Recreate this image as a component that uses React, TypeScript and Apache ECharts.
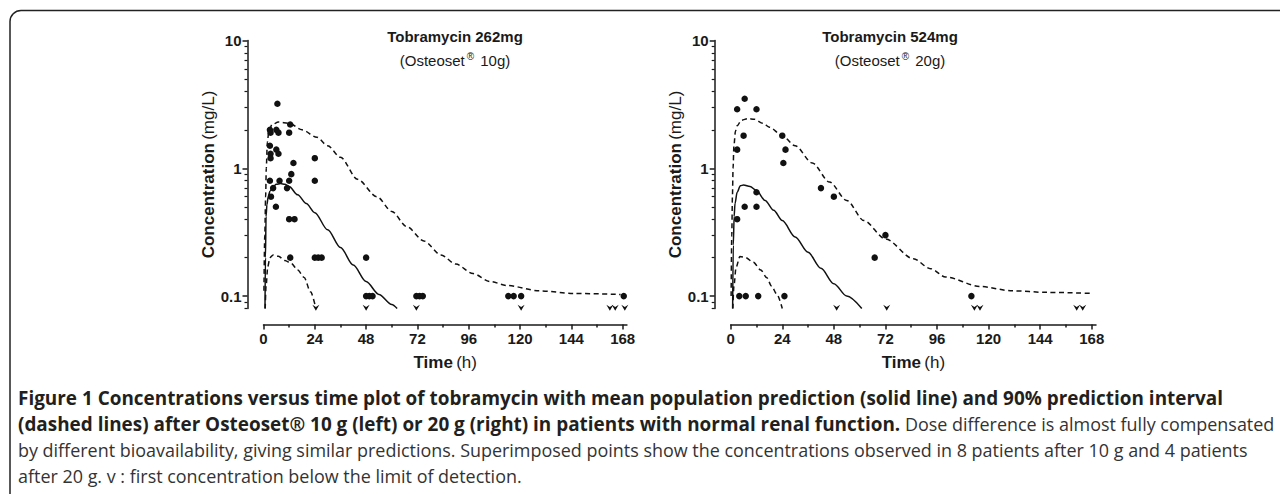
import React, { useEffect, useRef } from 'react';
import * as echarts from 'echarts';

// ---------- axis values ----------
const xTicks = [0, 24, 48, 72, 96, 120, 144, 168];
const xMinorTicks = [12, 36, 60, 84, 108, 132, 156];
const yTicks = [0.1, 1, 10];
const yMinorTicks = [0.08, 0.09, 0.2, 0.3, 0.4, 0.5, 0.6, 0.7, 0.8, 0.9, 2, 3, 4, 5, 6, 7, 8, 9];

// ---------- 10 g (left) ----------
const obs10: [number, number][] = [
  [6.5, 3.2],
  [3, 2.0], [3.3, 1.9], [6, 2.0], [7, 1.9], [12.5, 2.2], [12, 1.9],
  [3, 1.5], [3.3, 1.3], [3.3, 1.2], [6, 1.4], [7, 1.3],
  [14, 1.1], [24, 1.2],
  [3, 0.8], [7.5, 0.8], [12, 0.8], [24, 0.8], [13, 0.9],
  [4.5, 0.7], [11, 0.7], [3.5, 0.6], [5.8, 0.5],
  [12, 0.4], [14.5, 0.4],
  [12.5, 0.2], [24, 0.2], [25.6, 0.2], [27.2, 0.2], [48, 0.2],
  [48, 0.1], [49.5, 0.1], [51, 0.1], [71.5, 0.1], [73, 0.1], [74.5, 0.1],
  [114.5, 0.1], [117, 0.1], [120.5, 0.1], [168.5, 0.1],
];
const blq10 = [24.5, 48, 71.5, 120.5, 162, 164.5, 169];
const mean10: [number, number][] = [
  [0.7, 0.08], [0.9, 0.2], [1.2, 0.42], [1.6, 0.52], [2.2, 0.6], [3, 0.66], [4.5, 0.72],
  [6, 0.75], [8, 0.76], [10, 0.75], [12, 0.72], [16, 0.62], [20, 0.53], [24, 0.45],
  [30, 0.33], [36, 0.24], [42, 0.175], [48, 0.13], [54, 0.103], [60, 0.086], [62.5, 0.08],
];
const upper10: [number, number][] = [
  [0.2, 0.11], [0.6, 0.3], [1, 0.6], [1.3, 1.0], [1.8, 1.6], [2.5, 1.95], [4, 2.2],
  [7, 2.3], [12, 2.25], [18, 2.0], [25, 1.75], [30, 1.5], [36, 1.22], [44, 0.82],
  [53, 0.6], [60, 0.46], [67, 0.35], [75, 0.27], [83, 0.21], [90, 0.178], [98, 0.15],
  [106, 0.13], [114, 0.121], [129, 0.11], [145, 0.105], [167, 0.103],
];
const lower10: [number, number][] = [
  [0.8, 0.08], [1.2, 0.12], [2, 0.17], [3, 0.2], [4.5, 0.21], [7, 0.205], [10, 0.19],
  [13, 0.18], [16, 0.16], [19, 0.14], [22, 0.108], [24.5, 0.08],
];

// ---------- 20 g (right) ----------
const obs20: [number, number][] = [
  [6.5, 3.5], [3, 2.9], [12, 2.9], [6, 1.8], [3, 1.4], [24, 1.8], [25.5, 1.4], [24.5, 1.1],
  [42, 0.7], [48, 0.6], [12, 0.65], [6.5, 0.5], [12, 0.5], [3, 0.4], [72, 0.3], [67, 0.2],
  [4, 0.1], [7, 0.1], [12.8, 0.1], [25, 0.1], [112, 0.1],
];
const blq20 = [49.3, 72.6, 113.4, 116, 161, 163.8];
const mean20: [number, number][] = [
  [0.9, 0.08], [1.2, 0.25], [1.6, 0.42], [2, 0.53], [3, 0.65], [4.5, 0.73], [6, 0.74],
  [9, 0.72], [12, 0.67], [16, 0.56], [20, 0.47], [24, 0.39], [30, 0.29], [36, 0.22],
  [42, 0.165], [48, 0.125], [54, 0.1], [61, 0.08],
];
const upper20: [number, number][] = [
  [0.2, 0.1], [0.5, 0.3], [0.8, 0.6], [1.1, 1.0], [1.5, 1.5], [2.2, 1.95], [3, 2.15],
  [5, 2.38], [8, 2.45], [11, 2.42], [15, 2.25], [18, 2.1], [24, 1.8], [30, 1.5], [38, 1.1],
  [46, 0.78], [54, 0.56], [62, 0.39], [72, 0.28], [85, 0.196], [93, 0.164], [100, 0.141],
  [116, 0.119], [131, 0.11], [147, 0.107], [168, 0.105],
];
const lower20: [number, number][] = [
  [1, 0.08], [1.5, 0.12], [2.5, 0.168], [4.3, 0.204], [7, 0.2], [10.5, 0.184], [14, 0.16],
  [16.7, 0.14], [19, 0.12], [21.4, 0.104], [24, 0.08],
];
const BLQ_Y = 0.081;

const panelTitles = ['Tobramycin 262mg', 'Tobramycin 524mg'];
const panelDoses = [' 10g)', ' 20g)'];

const captionLines = [
  [{ s: 'b', t: 'Figure 1 Concentrations versus time plot of tobramycin with mean population prediction (solid line) and 90% prediction interval' }],
  [
    { s: 'b', t: '(dashed lines) after Osteoset® 10 g (left) or 20 g (right) in patients with normal renal function.' },
    { s: 'r', t: ' Dose difference is almost fully compensated' },
  ],
  [{ s: 'r', t: 'by different bioavailability, giving similar predictions. Superimposed points show the concentrations observed in 8 patients after 10 g and 4 patients' }],
  [{ s: 'r', t: 'after 20 g. v : first concentration below the limit of detection.' }],
];

const FONT = '"Liberation Sans", Arial, Helvetica, sans-serif';
const CAP_FONT = '"Open Sans", "Noto Sans", sans-serif';
const AX = '#1a1a1a';

function measure(text: string, weight: string, size: number, family: string) {
  const c = document.createElement('canvas').getContext('2d');
  if (!c) return text.length * size * 0.55;
  c.font = `${weight} ${size}px ${family}`;
  return c.measureText(text).width;
}

export default function App() {
  const ref = useRef<HTMLDivElement>(null);

  useEffect(() => {
    if (!ref.current) return;
    const chart = echarts.init(ref.current, undefined, { renderer: 'svg' });

    const grids = [
      { left: 263.5, top: 40.5, width: 170 * 2.138, height: 268 },
      { left: 730.7, top: 40.5, width: 170 * 2.149, height: 268 },
    ];

    const xAxis: any[] = [];
    const yAxis: any[] = [];
    grids.forEach((_, g) => {
      xAxis.push({
        type: 'value', gridIndex: g, min: 0, max: 170, position: 'bottom', offset: 16,
        axisLine: { show: true, onZero: false, lineStyle: { color: AX, width: 1.5 } },
        axisTick: { show: true, length: 5, customValues: xTicks, lineStyle: { color: AX, width: 1.5 } },
        axisLabel: { customValues: xTicks, margin: 6, fontFamily: FONT, fontWeight: 'bold', fontSize: 15, color: AX },
        splitLine: { show: false },
        name: '{b|Time} {r|(h)}', nameLocation: 'middle', nameGap: 29,
        nameTextStyle: {
          rich: {
            b: { fontFamily: FONT, fontWeight: 'bold', fontSize: 17, color: AX },
            r: { fontFamily: FONT, fontSize: 17, color: AX },
          },
        },
      });
      xAxis.push({
        type: 'value', gridIndex: g, min: 0, max: 170, position: 'bottom', offset: 16,
        axisLine: { show: false, onZero: false },
        axisTick: { show: true, length: 3, customValues: xMinorTicks, lineStyle: { color: AX, width: 1.5 } },
        axisLabel: { show: false },
        splitLine: { show: false },
      });
      yAxis.push({
        type: 'log', logBase: 10, gridIndex: g, min: 0.08, max: 10, position: 'left', offset: 16,
        axisLine: { show: true, onZero: false, lineStyle: { color: AX, width: 1.5 } },
        axisTick: { show: true, length: 5, customValues: yTicks, lineStyle: { color: AX, width: 1.5 } },
        axisLabel: {
          customValues: yTicks, margin: 6, fontFamily: FONT, fontWeight: 'bold', fontSize: 15, color: AX,
          formatter: (v: number) => (v >= 1 ? v.toFixed(0) : v.toFixed(1)),
        },
        splitLine: { show: false },
        name: '{b|Concentration} {r|(mg/L)}', nameLocation: 'middle', nameGap: 29, nameRotate: 90,
        nameTextStyle: {
          rich: {
            b: { fontFamily: FONT, fontWeight: 'bold', fontSize: 17, color: AX },
            r: { fontFamily: FONT, fontSize: 17, color: AX },
          },
        },
      });
      yAxis.push({
        type: 'log', logBase: 10, gridIndex: g, min: 0.08, max: 10, position: 'left', offset: 16,
        axisLine: { show: false, onZero: false },
        axisTick: { show: true, length: 3, customValues: yMinorTicks, lineStyle: { color: AX, width: 1.2 } },
        axisLabel: { show: false },
        splitLine: { show: false },
      });
    });

    const lineSeries = (data: [number, number][], g: number, dashed: boolean) => ({
      type: 'line', xAxisIndex: 2 * g, yAxisIndex: 2 * g, data, showSymbol: false, symbol: 'none',
      smooth: 0.3, smoothMonotone: 'x',
      lineStyle: { color: '#111', width: 1.5, type: dashed ? [5, 3.5] : 'solid' },
      z: 3,
    });
    const obsSeries = (data: [number, number][], g: number) => ({
      type: 'scatter', xAxisIndex: 2 * g, yAxisIndex: 2 * g, data, symbol: 'circle', symbolSize: 6.5,
      itemStyle: { color: '#111', opacity: 1 }, z: 4,
    });
    const blqSeries = (times: number[], g: number) => ({
      type: 'scatter', xAxisIndex: 2 * g, yAxisIndex: 2 * g, data: times.map((t) => [t, BLQ_Y]),
      symbol: 'path://M0,0 L5,3 L10,0 L5,8 Z', symbolSize: [7, 6], itemStyle: { color: '#111', opacity: 1 }, z: 4,
    });

    const series: any[] = [
      lineSeries(mean10, 0, false), lineSeries(upper10, 0, true), lineSeries(lower10, 0, true),
      obsSeries(obs10, 0), blqSeries(blq10, 0),
      lineSeries(mean20, 1, false), lineSeries(upper20, 1, true), lineSeries(lower20, 1, true),
      obsSeries(obs20, 1), blqSeries(blq20, 1),
    ];

    // caption sizing: bold fitted to line 1, regular fitted to line 3, then checked against line 2
    let sizeB = (100 * 1207) / measure(captionLines[0][0].t, 'bold', 100, CAP_FONT);
    let sizeR = (100 * 1232) / measure(captionLines[2][0].t, 'normal', 100, CAP_FONT);
    const w2 = measure(captionLines[1][0].t, 'bold', sizeB, CAP_FONT) + measure(captionLines[1][1].t, 'normal', sizeR, CAP_FONT);
    if (w2 > 1256) {
      const k = 1256 / w2;
      sizeB *= k;
      sizeR *= k;
    }
    const capLH = 26;
    const capText = captionLines.map((ln) => ln.map((p) => `{${p.s}|${p.t}}`).join('')).join('\n');

    const titleCenters = [455, 890];
    const graphic: any[] = [
      {
        type: 'rect', shape: { x: 10, y: 10.5, width: 1320, height: 620, r: 11 },
        style: { fill: 'none', stroke: '#222', lineWidth: 1.5 }, silent: true,
      },
      {
        type: 'text', left: 18, top: 401 - capLH / 2,
        style: {
          text: capText,
          rich: {
            b: { fontFamily: CAP_FONT, fontWeight: 'bold', fontSize: sizeB, fill: '#231f20', lineHeight: capLH },
            r: { fontFamily: CAP_FONT, fontWeight: 'normal', fontSize: sizeR, fill: '#333', lineHeight: capLH },
          },
        },
      },
    ];
    titleCenters.forEach((cx, i) => {
      graphic.push({
        type: 'text', x: cx, y: 36,
        style: { text: panelTitles[i], font: `bold 15px ${FONT}`, fill: AX, textAlign: 'center', textVerticalAlign: 'middle' },
      });
      graphic.push({
        type: 'text', x: cx, y: 60,
        style: {
          text: `{r|(Osteoset}{s|®}{r|${panelDoses[i]}}`,
          textAlign: 'center', textVerticalAlign: 'middle',
          rich: {
            r: { fontFamily: FONT, fontSize: 15, fill: AX, lineHeight: 18 },
            s: { fontFamily: FONT, fontSize: 10, fill: AX, verticalAlign: 'top', lineHeight: 10, padding: [0, 2, 0, 2] },
          },
        },
      });
    });

    chart.setOption({
      animation: false,
      backgroundColor: '#fff',
      grid: grids,
      xAxis,
      yAxis,
      series,
      graphic,
    });

    return () => chart.dispose();
  }, []);

  return (
    <div
      ref={ref}
      style={{ position: 'fixed', left: 0, top: 0, width: 1280, height: 494, background: '#fff' }}
    />
  );
}
